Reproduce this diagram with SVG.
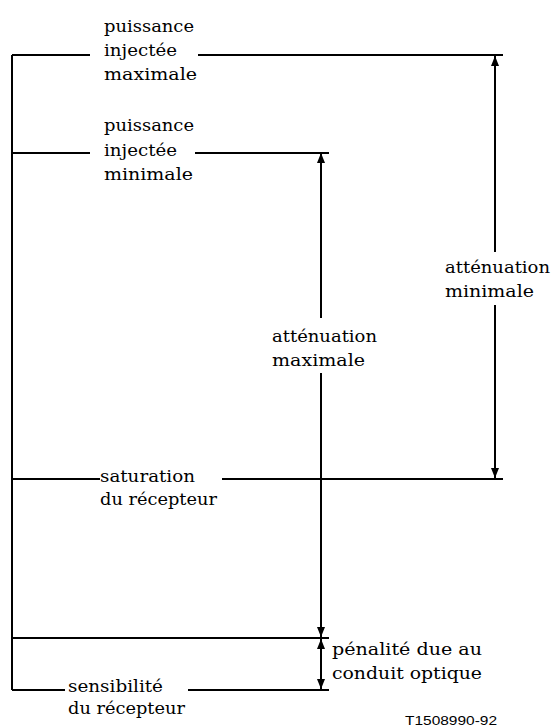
<svg xmlns="http://www.w3.org/2000/svg" width="551" height="727" viewBox="0 0 551 727">
<style>
.ln{stroke:#000;stroke-width:2;fill:none}
.s{font-family:'Liberation Sans',Arial,sans-serif;font-size:13px;fill:#000}
</style>
<defs>
<marker id="ah" viewBox="0 0 10 8" refX="10" refY="4" markerWidth="10" markerHeight="8" markerUnits="userSpaceOnUse" orient="auto-start-reverse">
<path d="M0,0 L10,4 L0,8 z" fill="#000"/>
</marker>
</defs>
<rect width="551" height="727" fill="#fff"/>
<g id="levels">
<path class="ln" d="M12,55 V690"/>
<path class="ln" d="M12,55 H90 M198,55 H503"/>
<path class="ln" d="M12,153 H90 M195,153 H329"/>
<path class="ln" d="M12,479 H100 M222,479 H503"/>
<path class="ln" d="M12,638 H329"/>
<path class="ln" d="M12,690 H65 M188,690 H329"/>
</g>
<g id="connectors">
<line class="ln" x1="321" y1="318" x2="321" y2="153" marker-end="url(#ah)"/>
<line class="ln" x1="321" y1="373" x2="321" y2="637" marker-end="url(#ah)"/>
<line class="ln" x1="495" y1="252" x2="495" y2="56" marker-end="url(#ah)"/>
<line class="ln" x1="495" y1="305" x2="495" y2="478" marker-end="url(#ah)"/>
<line class="ln" x1="321" y1="639" x2="321" y2="689" marker-start="url(#ah)" marker-end="url(#ah)"/>
</g>
<g font-family="DejaVu Serif, serif" font-size="16.5" fill="#000">
<g id="puissance-max">
<text x="104" y="32" textLength="90" lengthAdjust="spacingAndGlyphs">puissance</text>
<text x="104" y="56" textLength="73" lengthAdjust="spacingAndGlyphs">injectée</text>
<text x="104" y="80" textLength="93" lengthAdjust="spacingAndGlyphs">maximale</text>
</g>
<g id="puissance-min">
<text x="104" y="131" textLength="90" lengthAdjust="spacingAndGlyphs">puissance</text>
<text x="104" y="156" textLength="73" lengthAdjust="spacingAndGlyphs">injectée</text>
<text x="104" y="180" textLength="89" lengthAdjust="spacingAndGlyphs">minimale</text>
</g>
<g id="saturation">
<text x="100" y="482" textLength="95" lengthAdjust="spacingAndGlyphs">saturation</text>
<text x="100" y="505" textLength="117" lengthAdjust="spacingAndGlyphs">du récepteur</text>
</g>
<g id="sensibilite">
<text x="68" y="692" textLength="95" lengthAdjust="spacingAndGlyphs">sensibilité</text>
<text x="68" y="714" textLength="117" lengthAdjust="spacingAndGlyphs">du récepteur</text>
</g>
<g id="att-max">
<text x="272" y="342" textLength="105" lengthAdjust="spacingAndGlyphs">atténuation</text>
<text x="272" y="366" textLength="93" lengthAdjust="spacingAndGlyphs">maximale</text>
</g>
<g id="att-min">
<text x="445" y="273" textLength="105" lengthAdjust="spacingAndGlyphs">atténuation</text>
<text x="445" y="297" textLength="89" lengthAdjust="spacingAndGlyphs">minimale</text>
</g>
<g id="penalite">
<text x="332" y="655" textLength="150" lengthAdjust="spacingAndGlyphs">pénalité due au</text>
<text x="332" y="679" textLength="150" lengthAdjust="spacingAndGlyphs">conduit optique</text>
</g>
</g>
<text class="s" x="405" y="725" textLength="92" lengthAdjust="spacingAndGlyphs">T1508990-92</text>
</svg>
